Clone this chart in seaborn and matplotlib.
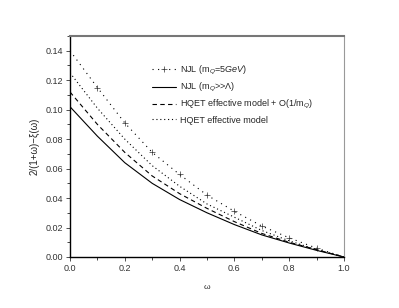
import numpy as np
import pandas as pd
import matplotlib
matplotlib.use("Agg")
import matplotlib.pyplot as plt
import seaborn as sns
from matplotlib.ticker import MultipleLocator

omega = [0.0, 0.1, 0.2, 0.3, 0.4, 0.5, 0.6, 0.7, 0.8, 0.9, 1.0]
njl_5gev = [0.140, 0.115, 0.091, 0.071, 0.056, 0.042, 0.031, 0.021, 0.013, 0.006, 0.0]
njl_inf = [0.102, 0.082, 0.064, 0.050, 0.039, 0.030, 0.022, 0.015, 0.0095, 0.0045, 0.0]
hqet_corr = [0.112, 0.090, 0.071, 0.055, 0.043, 0.033, 0.024, 0.016, 0.010, 0.005, 0.0]
hqet = [0.125, 0.101, 0.080, 0.062, 0.048, 0.036, 0.027, 0.018, 0.011, 0.005, 0.0]
labels = ["NJL (m$_Q$=5$GeV$)", "NJL (m$_Q$>>Λ)",
          "HQET effective model + O(1/m$_Q$)", "HQET effective model"]

sns.set_style("ticks")
plt.rcParams['font.family'] = ['Liberation Sans', 'DejaVu Sans']
plt.rcParams['mathtext.fontset'] = 'custom'
plt.rcParams['mathtext.rm'] = 'Liberation Sans'
plt.rcParams['mathtext.it'] = 'Liberation Sans:italic'

fig = plt.figure(figsize=(3.99, 3.08), dpi=100)
ax = fig.add_axes([70/399, 1-257/308, 274/399, 221/308])

df = pd.DataFrame({"w": omega, "a": njl_5gev, "b": njl_inf, "c": hqet_corr, "d": hqet})
sns.lineplot(data=df, x="w", y="a", ax=ax, color="black", lw=0.8,
             linestyle=(0, (1, 4)), label=labels[0])
sns.lineplot(data=df, x="w", y="b", ax=ax, color="black", lw=0.8, linestyle="-", label=labels[1])
sns.lineplot(data=df, x="w", y="c", ax=ax, color="black", lw=0.8, linestyle=(0, (4, 3)), label=labels[2])
sns.lineplot(data=df, x="w", y="d", ax=ax, color="black", lw=0.8, linestyle=(0, (1, 2.5)), label=labels[3])
l0 = ax.get_lines()[0]
l0.set_marker("+")
l0.set_markersize(5)
l0.set_markeredgewidth(0.5)
l0.set_markeredgecolor("#333333")
l0.set_markerfacecolor("#333333")
l0.set_markevery(slice(1, None))

ax.set_xlim(0, 1.0)
ax.set_ylim(0, 0.15)
ax.xaxis.set_minor_locator(MultipleLocator(0.1))
ax.yaxis.set_minor_locator(MultipleLocator(0.01))
xt = [0.0, 0.2, 0.4, 0.6, 0.8, 1.0]
ax.set_xticks(xt)
ax.set_xticklabels([f"{v:.1f}" for v in xt])
yt = [0, 0.02, 0.04, 0.06, 0.08, 0.10, 0.12, 0.14]
ax.set_yticks(yt)
ax.set_yticklabels([f"{v:.2f}" for v in yt])
ax.tick_params(axis='both', which='major', labelsize=6.5, length=3, width=0.6, direction='out', pad=2, colors='#333333')
ax.tick_params(axis='both', which='minor', length=2, width=0.6, direction='out')
ax.set_xlabel("ω", fontsize=6, labelpad=8)
ax.set_ylabel("2/(1+ω)−ξ(ω)", fontsize=7, labelpad=4)

for s in ["left", "bottom"]:
    ax.spines[s].set_color("black")
    ax.spines[s].set_linewidth(1.0)
ax.spines["top"].set_color("#777777")
ax.spines["top"].set_linewidth(1.5)
ax.spines["right"].set_color("#999999")
ax.spines["right"].set_linewidth(0.8)

leg = ax.legend(loc="upper left", bbox_to_anchor=(0.27, 0.91), frameon=False,
                fontsize=6.5, handlelength=2.6, handletextpad=0.5, labelspacing=0.45)

fig.savefig("out.png", dpi=100)
